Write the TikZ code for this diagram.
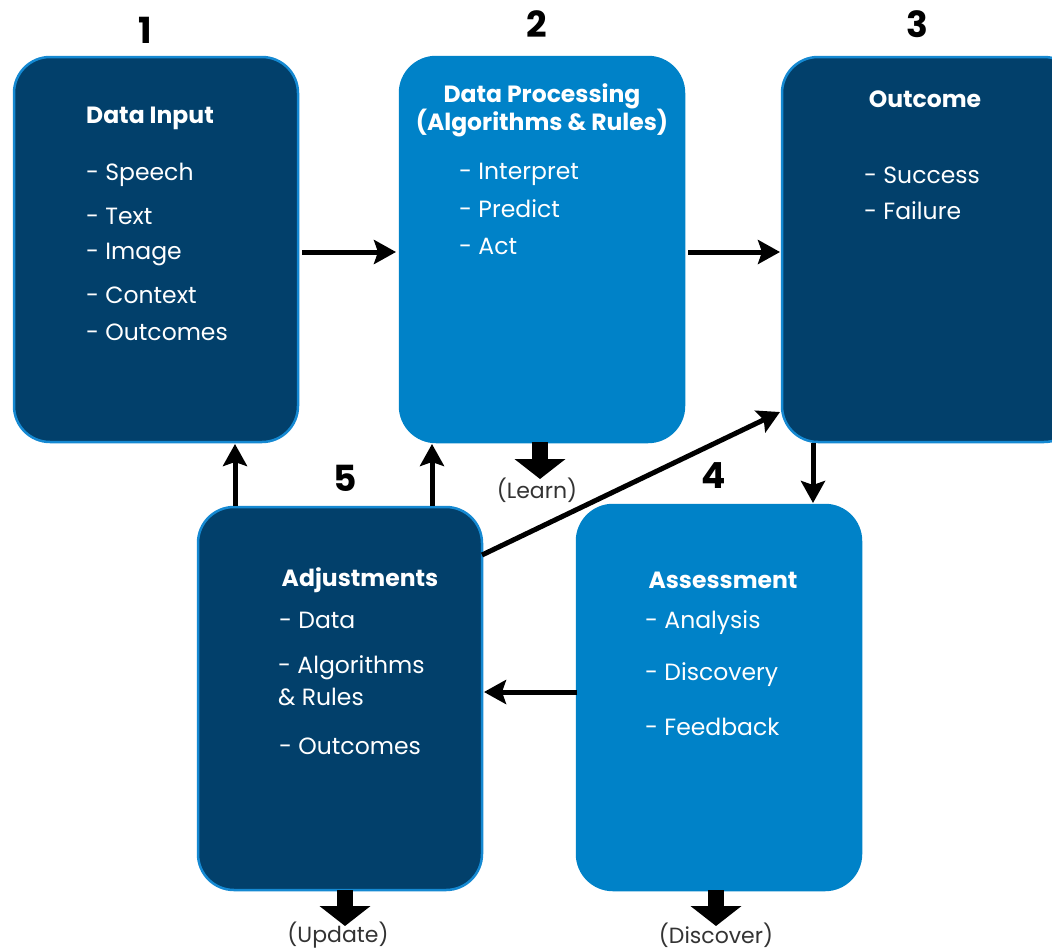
\documentclass[tikz,border=0pt]{standalone}
\usepackage{fontspec}
\setmainfont{Poppins}
\usetikzlibrary{arrows.meta}
\definecolor{darkbox}{HTML}{02406B}
\definecolor{lightbox}{HTML}{0082C8}
\definecolor{edgeblue}{HTML}{1589D2}
\begin{document}
\begin{tikzpicture}[x=1pt,y=-1pt,
  card/.style={rounded corners=36pt, line width=2.5pt, draw=edgeblue},
  darkcard/.style={card, fill=darkbox},
  lightcard/.style={card, fill=lightbox, draw=lightbox},
  ttl/.style={text=white, font=\fontsize{23.5}{28}\selectfont\bfseries, align=center},
  itm/.style={text=white, font=\fontsize{23.5}{28}\selectfont, anchor=west, inner sep=0pt},
  num/.style={font=\fontsize{36}{40}\selectfont\bfseries},
  flow/.style={line width=5pt, -{Stealth[length=22pt,width=24pt,inset=4pt]}},
  blockarrow/.style={line width=16pt, -{Triangle[length=20pt,width=50pt]}},
  note/.style={font=\fontsize{22}{26}\selectfont, text=black!80},
]
\useasboundingbox (0,0) rectangle (1052,951);
\begin{scope}
\clip (0,0) rectangle (1052,951);
\draw[darkcard] (14,57) rectangle (298,442);
\draw[lightcard] (400,57) rectangle (684,442);
\draw[darkcard] (782,57) rectangle (1080,442);
\draw[darkcard] (198,507) rectangle (482,890);
\draw[lightcard] (577,505) rectangle (861,890);
\end{scope}
\node (n1) at (145,30) [num] {1};
\node (n2) at (537,24) [num] {2};
\node (n3) at (917,24) [num] {3};
\node (n5) at (345,478) [num] {5};
\node (n4) at (714,476) [num] {4};
% texts
\node (t1) at (150,118) [ttl] {Data Input};
\node (i11) at (86,175) [itm] {- Speech};
\node (i12) at (86,216) [itm] {- Text};
\node (i13) at (86,254) [itm] {- Image};
\node (i14) at (86,295) [itm] {- Context};
\node (i15) at (86,332) [itm] {- Outcomes};
\node (t2) at (542,110) [ttl] {Data Processing\\(Algorithms \& Rules)};
\node (i21) at (459,174) [itm] {- Interpret};
\node (i22) at (459,209) [itm] {- Predict};
\node (i23) at (459,246) [itm] {- Act};
\node (t3) at (925,99) [ttl] {Outcome};
\node (i31) at (864,175) [itm] {- Success};
\node (i32) at (864,211) [itm] {- Failure};
\node (t5) at (360,580) [ttl] {Adjustments};
\node (i51) at (279,620) [itm] {- Data};
\node (i52) at (278,668) [itm] {- Algorithms};
\node (i53) at (278,697) [itm] {\& Rules};
\node (i54) at (279,746) [itm] {- Outcomes};
\node (t4) at (723,580) [ttl] {Assessment};
\node (i41) at (645,623) [itm] {- Analysis};
\node (i42) at (645,675) [itm] {- Discovery};
\node (i43) at (645,727) [itm] {- Feedback};
% connector coordinates
\coordinate (a1s) at (302,252); \coordinate (a1e) at (396,252);
\coordinate (a2s) at (688,252); \coordinate (a2e) at (780,252);
\coordinate (a3s) at (813,443); \coordinate (a3e) at (813,503);
\coordinate (a4s) at (577,692); \coordinate (a4e) at (484,692);
\coordinate (a5s) at (235,506); \coordinate (a5e) at (235,444);
\coordinate (a6s) at (432,506); \coordinate (a6e) at (432,444);
\coordinate (a7s) at (482,555); \coordinate (a7e) at (780,412);
\draw[flow] (a1s) -- (a1e);
\draw[flow] (a2s) -- (a2e);
\draw[flow] (a3s) -- (a3e);
\draw[flow] (a4s) -- (a4e);
\draw[flow] (a5s) -- (a5e);
\draw[flow] (a6s) -- (a6e);
\draw[flow] (a7s) -- (a7e);
% block arrows
\coordinate (l1) at (540,442); \coordinate (l2) at (540,479);
\coordinate (u1) at (345,890); \coordinate (u2) at (345,926);
\coordinate (d1) at (716,890); \coordinate (d2) at (716,926);
\draw[blockarrow] (l1) -- (l2);
\draw[blockarrow] (u1) -- (u2);
\draw[blockarrow] (d1) -- (d2);
\node (learn) at (537,490) [note] {(Learn)};
\node (update) at (338,935) [note] {(Update)};
\node (discover) at (716,935) [note] {(Discover)};
\end{tikzpicture}
\end{document}
